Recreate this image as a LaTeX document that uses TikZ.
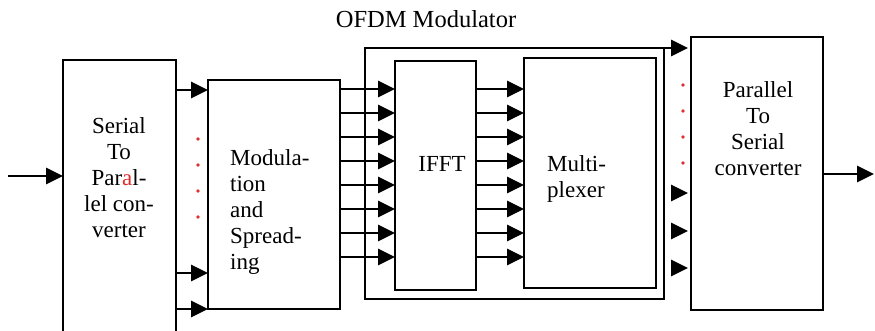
\documentclass[tikz,border=0pt]{standalone}
\usepackage{fontspec}
\setmainfont{Liberation Serif}
\usetikzlibrary{arrows.meta}
\definecolor{dotred}{RGB}{225,45,45}
\begin{document}
\begin{tikzpicture}[x=1pt,y=-1pt,
  box/.style={draw, line width=2pt, rectangle, inner sep=0pt, outer sep=0pt},
  arr/.style={line width=2.8pt, -{Triangle[length=17pt,width=16pt]}},
  lbl/.style={font=\fontsize{23}{26}\selectfont, inner sep=0pt},
  rdot/.style={fill=dotred, circle, inner sep=0pt, minimum size=3.8pt}
]
\useasboundingbox (0,0) rectangle (875,330);
\clip (0,0) rectangle (875,330);

% title
\node[font=\fontsize{24.5}{28}\selectfont, inner sep=0pt, anchor=base] (title) at (426,27) {OFDM Modulator};

% boxes
\node[box, anchor=north west, minimum width=113, minimum height=290] (sp) at (63,60) {};
\node[box, anchor=north west, minimum width=132, minimum height=229] (mod) at (208,80) {};
\node[box, anchor=north west, minimum width=299, minimum height=251] (ofdm) at (365,48) {};
\node[box, anchor=north west, minimum width=81, minimum height=229] (ifft) at (395,61) {};
\node[box, anchor=north west, minimum width=132, minimum height=230] (mux) at (524,58) {};
\node[box, anchor=north west, minimum width=132, minimum height=273] (ps) at (691,37) {};

% texts
\node[lbl, align=center, anchor=north] (sptext) at (119,117) {Serial\\To\\Par{\color{dotred}a}l-\\lel con-\\verter};
\node[lbl, align=left, anchor=north west] (modtext) at (230,149) {Modula-\\tion\\and\\Spread-\\ing};
\node[lbl, anchor=base] (iffttext) at (442,171) {IFFT};
\node[lbl, align=left, anchor=north west] (muxtext) at (547,155) {Multi-\\plexer};
\node[lbl, align=center, anchor=north] (pstext) at (758,81) {Parallel\\To\\Serial\\converter};

% input / output
\coordinate (in) at (8,176);
\coordinate (out) at (874,174);
\draw[arr] (in) -- (sp.west |- in);
\draw[arr] (ps.east |- out) -- (out);

% serial-to-parallel outputs
\foreach \yy in {90,273,309} {
  \draw[arr] (sp.east |- 0,\yy) -- (mod.west |- 0,\yy);
}
% modulation -> IFFT, IFFT -> multiplexer
\foreach \yy in {89,113,137,161,185,209,233,257} {
  \draw[arr] (mod.east |- 0,\yy) -- (ifft.west |- 0,\yy);
  \draw[arr] (ifft.east |- 0,\yy) -- (mux.west |- 0,\yy);
}
% OFDM top line into P/S
\draw[arr, shorten >=3pt] (ofdm.north east) -- (ps.west |- ofdm.north);
% arrowheads into P/S
\foreach \yy in {193,231,268} {
  \draw[arr, shorten >=3pt] ([xshift=-20pt]ps.west |- 0,\yy) -- (ps.west |- 0,\yy);
}

% red dots
\foreach \yy [count=\i] in {139,165,191,217} {
  \node[rdot] (dl\i) at (198,\yy) {};
}
\foreach \yy [count=\i] in {85,111,137,163} {
  \node[rdot] (dr\i) at (683,\yy) {};
}
\end{tikzpicture}
\end{document}
